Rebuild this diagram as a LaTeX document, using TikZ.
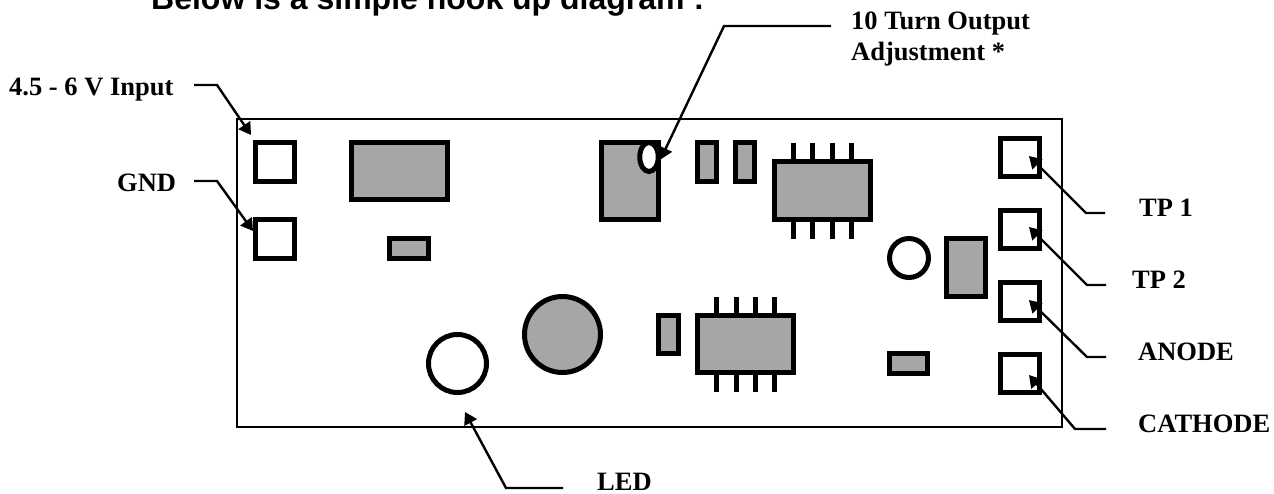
\documentclass[tikz,border=0pt]{standalone}
\usepackage{fontspec}
\setmainfont{Liberation Serif}
\newfontfamily\titlefont{Liberation Sans}
\usetikzlibrary{arrows.meta,calc,shapes.geometric}
\definecolor{partgray}{HTML}{A6A6A6}
\tikzset{
  part/.style={draw=black,line width=5pt,fill=partgray,inner sep=0pt,outer sep=0pt,rectangle},
  pad/.style={part,fill=white,minimum width=39pt,minimum height=39pt},
  pin/.style={line width=5pt,black},
  board/.style={draw=black,line width=2pt},
  conn/.style={line width=2.4pt,black,line join=miter,-{Triangle[length=12pt,width=14pt]}},
  lab/.style={anchor=base west,inner sep=0pt,font=\bfseries\fontsize{26.5}{30}\selectfont},
  ttl/.style={anchor=base west,inner sep=0pt,font=\titlefont\bfseries\fontsize{32}{36}\selectfont}
}
\begin{document}
\begin{tikzpicture}[x=1pt,y=-1pt]
\useasboundingbox (0,0) rectangle (1274,493);
\clip (0,0) rectangle (1274,493);
\fill[white] (0,0) rectangle (1274,493);
% board
\node[board,rectangle,inner sep=0pt,minimum width=825pt,minimum height=308pt] (brd) at (649,273) {};
% pads
\node[pad] (vin) at (275,162) {};
\node[pad] (gnd) at (275,239) {};
\node[pad,minimum height=38pt] (tp1) at (1020,157.5) {};
\node[pad,minimum height=38pt] (tp2) at (1020,229.5) {};
\node[pad,minimum height=38pt] (ano) at (1020,301.5) {};
\node[pad,minimum height=38pt] (cat) at (1020,373.5) {};
% parts
\node[part,minimum width=96pt,minimum height=57pt] (u1) at (399.5,171) {};
\node[part,minimum width=39pt,minimum height=20pt] (c1) at (409,248.5) {};
\node[part,minimum width=57pt,minimum height=77pt] (trim) at (630,181) {};
\node[ellipse,draw=black,line width=5pt,fill=white,inner sep=0pt,outer sep=0pt,minimum width=18.5pt,minimum height=29pt] (wiper) at (649,157) {};
\node[part,minimum width=19pt,minimum height=39pt] (r1) at (707,162) {};
\node[part,minimum width=19pt,minimum height=39pt] (r2) at (745,162) {};
\foreach \px in {793,812,832,851} \draw[pin] (\px,143) -- (\px,239);
\node[part,minimum width=95.5pt,minimum height=58pt] (ic1) at (822.25,190.5) {};
\node[circle,draw=black,line width=5pt,fill=white,inner sep=0pt,outer sep=0pt,minimum size=39pt] (tc) at (909,258) {};
\node[part,minimum width=39pt,minimum height=58pt] (r3) at (966,267.5) {};
\node[part,minimum width=38pt,minimum height=20pt] (c2) at (908.5,363.5) {};
\node[circle,draw=black,line width=5pt,fill=white,inner sep=0pt,outer sep=0pt,minimum size=58pt] (led) at (457.5,363.5) {};
\node[circle,draw=black,line width=5pt,fill=partgray,inner sep=0pt,outer sep=0pt,minimum size=76pt] (cap) at (562.5,334.5) {};
\node[part,minimum width=20pt,minimum height=38pt] (r4) at (668.5,334.5) {};
\foreach \px in {716,736,755,774} \draw[pin] (\px,297) -- (\px,392);
\node[part,minimum width=96pt,minimum height=57pt] (ic2) at (745.5,344) {};
% labels
\node[ttl] (title) at (151,9) {Below is a simple hook up diagram :};
\node[lab] (lvin) at (9,95) {4.5 - 6 V Input};
\node[lab] (lgnd) at (117,191) {GND};
\node[lab] (ladj) at (851,29.5) {10 Turn Output};
\node[lab] (ladj2) at (851,60) {Adjustment *};
\node[lab] (ltp1) at (1139,216) {TP 1};
\node[lab] (ltp2) at (1132,288) {TP 2};
\node[lab] (lano) at (1138,360) {ANODE};
\node[lab] (lcat) at (1138,432) {CATHODE};
\node[lab] (lled) at (597,490) {LED};
% connector free ends
\coordinate (svin) at (194,85);
\coordinate (sgnd) at (194,181);
\coordinate (sadj) at (831,26);
\coordinate (stp1) at (1105,213);
\coordinate (stp2) at (1106,285);
\coordinate (sano) at (1106,357);
\coordinate (scat) at (1106,429);
\coordinate (sled) at (563,488);
% connectors
\draw[conn] (svin) -- (217,85) -- ($(vin)+(-24,-27)$);
\draw[conn] (sgnd) -- (217,181) -- ($(gnd)+(-22,-8)$);
\draw[conn] (sadj) -- (724,26) -- ($(wiper)+(11.5,2.5)$);
\draw[conn] (stp1) -- (1086,213) -- ($(tp1)+(9,-1.5)$);
\draw[conn] (stp2) -- (1087,285) -- ($(tp2)+(9,-2.5)$);
\draw[conn] (sano) -- (1087,357) -- ($(ano)+(9,-1.5)$);
\draw[conn] (scat) -- (1075,429) -- ($(cat)+(9,1.5)$);
\draw[conn] (sled) -- (506,488) -- ($(led)+(7.5,48.5)$);
\end{tikzpicture}
\end{document}
